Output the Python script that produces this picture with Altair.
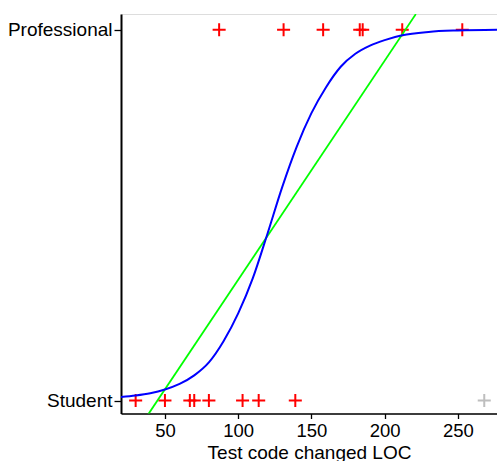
import altair as alt
import pandas as pd

# Observed test-code changes (LOC) per group
student_loc = [30, 50, 67, 70, 80, 103, 114, 139]
professional_loc = [87, 131, 158, 183, 185, 212, 253]
excluded_loc = [268]  # left out of the fits, shown in grey at the Student level

# Logistic fit (probability of "Professional") sampled along x
fit_x = [20, 30, 40, 50, 60, 70, 80, 90, 100, 110, 120, 130,
         140, 150, 160, 170, 180, 190, 200, 212, 230, 250, 276.7]
fit_p = [0.010, 0.014, 0.020, 0.030, 0.045, 0.068, 0.103, 0.160, 0.235, 0.330, 0.450, 0.575,
         0.685, 0.775, 0.845, 0.900, 0.935, 0.957, 0.972, 0.985, 0.994, 0.998, 1.0]

# Linear fit, end points where it leaves the panel
lin_x = [38.6, 221.3]
lin_p = [-0.037, 1.042]

X_DOMAIN = [20, 276.7]
Y_DOMAIN = [-0.0348, 1.0423]
FONT = "Liberation Sans"

obs = pd.DataFrame(
    {"loc": student_loc + professional_loc + excluded_loc,
     "level": [0] * len(student_loc) + [1] * len(professional_loc) + [0] * len(excluded_loc),
     "kind": ["used"] * (len(student_loc) + len(professional_loc)) + ["excluded"] * len(excluded_loc)}
)
logit_df = pd.DataFrame({"loc": fit_x, "level": fit_p})
lin_df = pd.DataFrame({"loc": lin_x, "level": lin_p})

x_enc = alt.X(
    "loc:Q",
    scale=alt.Scale(domain=X_DOMAIN, nice=False, zero=False),
    axis=alt.Axis(
        title="Test code changed LOC",
        values=[50, 100, 150, 200, 250],
        grid=False,
        domainColor="black",
        domainWidth=1.3,
        tickColor="black",
        tickSize=5,
        tickWidth=1.3,
        labelFont=FONT,
        labelFontSize=18.5,
        labelColor="black",
        labelPadding=3,
        titleFont=FONT,
        titleFontSize=19,
        titleFontWeight="normal",
        titleColor="black",
        titlePadding=3,
    ),
)
y_enc = alt.Y(
    "level:Q",
    scale=alt.Scale(domain=Y_DOMAIN, nice=False, zero=False),
    axis=alt.Axis(
        title=None,
        values=[0, 1],
        labelExpr="datum.value == 1 ? 'Professional' : 'Student'",
        grid=False,
        domainColor="black",
        domainWidth=2,
        tickColor="black",
        tickSize=7,
        tickWidth=1.3,
        labelFont=FONT,
        labelFontSize=19,
        labelColor="black",
        labelPadding=2,
    ),
)

plus = "M-1,0H1M0,-1V1"

points = alt.Chart(obs).mark_point(
    shape=plus, filled=False, size=170, strokeWidth=2, opacity=1
).encode(
    x=x_enc,
    y=y_enc,
    color=alt.Color(
        "kind:N",
        scale=alt.Scale(domain=["used", "excluded"], range=["#FF0000", "#BEBEBE"]),
        legend=None,
    ),
)

linear = alt.Chart(lin_df).mark_line(color="#00FF00", strokeWidth=1.8, clip=True).encode(
    x="loc:Q", y="level:Q"
)
logistic = alt.Chart(logit_df).mark_line(
    color="#0000FF", strokeWidth=2, interpolate="monotone", clip=True
).encode(x="loc:Q", y="level:Q")

chart = (
    alt.layer(points, linear, logistic)
    .properties(
        width=376,
        height=399.5,
        autosize=alt.AutoSizeParams(type="none"),
        padding={"left": 121, "top": 14, "right": 0, "bottom": 47},
    )
    .configure_view(stroke=None)
    .configure(background="white")
)

chart.save("out.html", embed_options={"renderer": "svg", "actions": False})
